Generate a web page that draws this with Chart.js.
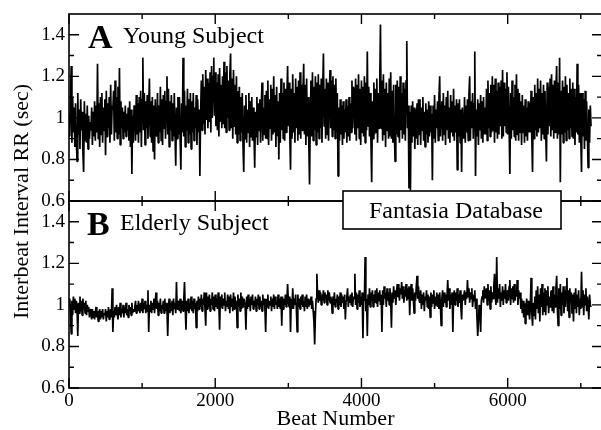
<!DOCTYPE html>
<html>
<head>
<meta charset="utf-8">
<title>Fantasia Database – RR intervals</title>
<script src="https://cdn.jsdelivr.net/npm/chart.js@4"></script>
<style>
  html, body { margin: 0; padding: 0; background: #fff; overflow: hidden; }
  #wrap { width: 606px; height: 430px; }
</style>
</head>
<body>
<div id="wrap"><canvas id="rr" width="606" height="430"></canvas></div>
<script>
// RR interval (sec), one sample every BEAT_STEP beats
const BEAT_STEP = 10;

const rrYoung = [
  1.02, 0.91, 1.08, 1.25, 0.88, 1.10, 0.93, 1.05, 0.86, 1.07, 0.90, 0.79, 1.12, 0.92, 1.04, 0.85, 1.09, 0.94, 1.03, 0.84, 0.74, 1.08, 0.89, 1.02, 0.88, 1.06, 0.85, 1.01, 0.90, 0.98,
  0.94, 1.05, 0.87, 1.03, 0.91, 1.08, 0.89, 1.06, 0.93, 1.26, 0.90, 1.07, 0.86, 1.10, 0.92, 1.12, 0.88, 1.05, 0.94, 1.09, 0.82, 1.13, 0.91, 1.07, 0.95, 1.10, 0.88, 1.16, 0.92, 1.06,
  1.04, 1.13, 0.89, 1.18, 0.93, 1.10, 0.90, 1.15, 0.92, 1.24, 0.87, 1.08, 0.95, 1.05, 0.90, 1.03, 0.93, 1.06, 0.91, 1.02, 0.94, 1.05, 0.89, 1.08, 0.86, 1.04, 0.73, 1.01, 0.88, 1.06,
  1.05, 0.89, 1.11, 0.92, 1.07, 0.88, 1.10, 0.93, 1.13, 0.86, 1.09, 1.29, 0.94, 1.12, 0.87, 1.08, 0.95, 1.11, 0.90, 1.06, 1.19, 0.91, 1.08, 0.88, 1.10, 0.84, 1.06, 0.80, 1.09, 0.93,
  0.91, 1.12, 0.88, 1.06, 0.93, 1.15, 0.89, 1.09, 0.87, 1.11, 0.95, 1.13, 0.90, 1.08, 1.20, 0.92, 1.14, 0.86, 1.08, 0.94, 1.11, 0.89, 1.07, 0.91, 1.12, 0.93, 0.77, 1.05, 0.90, 1.10,
  0.92, 1.10, 0.90, 0.75, 1.07, 0.93, 1.29, 0.91, 1.13, 0.86, 1.06, 0.94, 1.14, 0.88, 1.09, 0.92, 1.12, 0.85, 1.08, 0.93, 1.12, 0.89, 1.05, 0.95, 1.11, 0.87, 1.09, 0.93, 1.04, 0.72,
  1.02, 1.18, 0.94, 1.21, 0.97, 1.15, 0.92, 1.23, 0.99, 1.19, 0.95, 1.17, 0.98, 1.22, 0.93, 1.25, 1.00, 1.20, 1.29, 1.01, 1.22, 0.96, 1.17, 0.94, 1.21, 0.91, 1.24, 0.98, 1.16, 0.95,
  1.20, 0.97, 1.27, 0.95, 1.22, 0.93, 1.25, 1.00, 1.18, 0.94, 1.21, 1.31, 0.95, 1.19, 0.90, 1.23, 0.96, 1.16, 0.92, 1.20, 0.88, 1.13, 0.92, 1.15, 0.89, 1.10, 0.93, 1.12, 0.87, 0.74,
  1.06, 0.90, 1.11, 0.88, 1.04, 0.93, 1.12, 0.86, 1.08, 0.91, 1.10, 0.89, 1.05, 0.92, 0.76, 1.03, 0.91, 1.10, 0.87, 1.07, 0.94, 1.09, 0.88, 1.06, 1.17, 0.89, 1.05, 0.92, 1.11, 0.90,
  1.13, 0.90, 1.18, 0.87, 1.09, 0.95, 1.16, 0.89, 1.14, 0.92, 1.20, 0.93, 1.11, 0.86, 1.15, 0.91, 1.08, 0.80, 1.12, 0.88, 1.19, 0.94, 1.12, 0.90, 1.17, 0.89, 1.14, 0.93, 1.10, 1.25,
  0.96, 1.17, 0.92, 0.75, 1.14, 0.90, 1.21, 0.93, 1.12, 0.88, 1.19, 0.95, 1.15, 0.89, 1.18, 0.92, 1.22, 0.90, 1.16, 0.94, 1.13, 1.26, 0.92, 1.16, 0.87, 1.19, 0.91, 1.10, 0.88, 0.68,
  1.01, 1.18, 0.91, 1.22, 0.89, 1.15, 0.94, 1.20, 0.87, 1.17, 0.93, 1.21, 0.90, 1.16, 0.95, 1.19, 0.88, 1.14, 1.31, 0.96, 1.14, 0.90, 1.19, 0.92, 1.17, 0.89, 1.12, 1.23, 0.95, 1.18,
  0.91, 1.20, 0.94, 1.16, 0.90, 1.19, 0.93, 1.12, 0.72, 1.05, 0.89, 1.09, 0.92, 1.06, 0.87, 1.08, 0.90, 1.04, 0.93, 1.09, 0.88, 1.06, 0.91, 1.10, 0.89, 1.07, 0.93, 1.18, 0.95, 1.15,
  1.13, 0.92, 1.19, 0.89, 1.16, 0.95, 1.21, 0.90, 1.14, 0.87, 1.18, 0.93, 1.15, 0.91, 1.20, 0.88, 1.17, 0.94, 1.32, 0.96, 1.15, 0.91, 1.12, 0.89, 0.69, 1.08, 0.90, 1.17, 0.92, 1.14,
  0.93, 1.19, 0.88, 1.12, 0.95, 1.16, 1.45, 0.95, 1.18, 0.89, 1.21, 0.92, 1.14, 0.86, 1.17, 0.94, 1.12, 0.90, 1.19, 0.91, 1.22, 0.90, 1.13, 0.88, 1.16, 0.93, 0.79, 1.16, 0.92, 1.18,
  0.91, 1.15, 0.88, 1.20, 0.94, 1.12, 0.90, 1.17, 0.92, 1.14, 0.89, 1.18, 1.37, 0.95, 1.06, 0.66, 1.03, 0.65, 1.06, 0.88, 1.08, 0.91, 1.05, 0.85, 1.04, 0.90, 1.07, 0.87, 1.09, 0.92,
  1.09, 0.87, 1.05, 0.94, 1.10, 0.89, 1.03, 0.86, 1.07, 0.92, 1.04, 0.88, 1.08, 0.91, 1.06, 0.93, 1.02, 0.70, 1.06, 0.90, 1.11, 0.88, 1.04, 0.95, 1.08, 0.89, 1.10, 1.20, 0.91, 1.06,
  1.08, 0.89, 1.12, 0.92, 1.06, 0.87, 1.10, 0.94, 1.13, 0.90, 1.05, 0.88, 1.11, 0.93, 1.08, 0.91, 1.14, 0.89, 1.06, 0.93, 1.09, 0.75, 1.07, 0.91, 1.09, 0.88, 1.04, 0.74, 1.05, 0.92,
  0.90, 1.10, 0.88, 1.06, 0.93, 1.09, 0.89, 1.11, 1.20, 0.89, 1.08, 0.95, 1.12, 0.90, 1.07, 1.32, 0.72, 1.04, 0.91, 1.09, 0.87, 1.07, 0.94, 1.11, 0.90, 1.08, 0.88, 1.10, 0.92, 1.05,
  0.92, 1.14, 0.89, 1.18, 0.95, 1.12, 0.91, 1.16, 0.93, 1.20, 0.94, 1.16, 0.88, 1.19, 0.93, 1.13, 0.90, 1.17, 0.92, 1.15, 0.96, 1.18, 0.90, 1.23, 0.91, 1.17, 0.96, 1.14, 0.93, 1.22,
  0.92, 1.15, 0.94, 0.73, 1.12, 0.90, 1.18, 0.94, 1.10, 0.91, 1.16, 0.89, 1.21, 0.92, 1.14, 0.89, 1.12, 0.93, 1.08, 0.87, 1.11, 0.93, 1.06, 0.88, 1.09, 0.91, 1.05, 0.89, 1.08, 0.93,
  1.07, 0.93, 1.13, 0.90, 0.74, 1.10, 0.90, 1.16, 0.94, 1.12, 0.91, 1.19, 0.93, 1.14, 0.95, 1.18, 0.89, 1.12, 0.92, 1.16, 0.90, 1.13, 0.93, 0.79, 1.17, 0.92, 1.15, 0.96, 1.19, 0.91,
  1.21, 0.94, 1.16, 0.90, 1.18, 0.93, 1.14, 1.25, 0.90, 1.17, 0.92, 1.29, 0.69, 1.13, 0.92, 1.18, 0.88, 1.15, 0.93, 1.20, 0.89, 1.16, 0.94, 1.12, 0.90, 1.19, 0.95, 1.14, 0.91, 1.17,
  0.90, 1.14, 0.87, 1.10, 0.93, 1.26, 0.92, 1.16, 0.88, 1.12, 0.90, 0.74, 1.12, 0.91, 1.09, 0.85, 1.13, 0.89, 1.08, 0.92, 0.76, 1.04, 0.88, 1.06, 0.96
];

const rrElderly = [
  1.00, 1.03, 0.97, 0.86, 1.02, 0.95, 1.04, 0.98, 1.03, 0.96, 1.02, 0.99, 0.85, 1.01, 0.96, 1.04, 0.97, 1.02, 0.95, 1.03, 0.98, 1.01, 0.96, 1.02, 0.95, 1.00, 0.97, 0.99, 0.94, 0.98,
  0.97, 0.93, 0.98, 0.94, 0.97, 0.93, 0.96, 0.99, 0.94, 0.97, 0.92, 0.96, 0.98, 0.93, 0.97, 0.94, 0.98, 0.93, 0.96, 0.95, 0.98, 0.92, 0.97, 0.94, 0.99, 0.93, 0.96, 0.98, 0.94, 1.08,
  0.87, 0.97, 0.94, 0.99, 0.95, 1.00, 0.96, 0.93, 0.99, 0.95, 1.01, 0.94, 0.98, 0.96, 1.00, 0.94, 0.99, 0.96, 1.01, 0.95, 0.98, 0.94, 1.00, 0.97, 0.99, 0.95, 1.01, 0.96, 0.98, 0.97,
  0.99, 1.02, 0.96, 1.00, 0.97, 1.02, 0.98, 0.96, 1.01, 0.97, 1.03, 0.96, 1.01, 0.98, 1.02, 0.96, 1.00, 0.97, 1.07, 0.87, 1.00, 0.97, 1.02, 0.96, 1.01, 0.98, 1.03, 0.96, 1.01, 1.06,
  0.98, 1.02, 0.95, 1.01, 0.97, 1.03, 0.96, 1.00, 0.98, 1.02, 0.96, 1.03, 0.97, 1.01, 0.98, 0.85, 0.99, 1.03, 0.96, 1.01, 0.97, 1.02, 0.95, 1.03, 0.98, 1.01, 0.96, 1.11, 0.98, 1.02,
  1.01, 0.97, 1.03, 0.96, 1.00, 1.02, 0.97, 1.03, 1.11, 0.98, 0.88, 1.02, 0.97, 1.03, 0.96, 1.01, 0.98, 1.04, 0.97, 1.02, 0.96, 1.03, 0.98, 1.01, 0.89, 1.02, 0.97, 1.04, 0.98, 1.03,
  0.99, 1.05, 0.97, 1.03, 1.00, 1.06, 0.98, 0.90, 1.06, 0.98, 1.04, 0.99, 1.05, 0.97, 1.03, 1.00, 1.06, 0.98, 1.04, 0.97, 1.05, 0.99, 1.03, 0.98, 1.06, 1.00, 0.88, 1.04, 0.99, 1.05,
  0.98, 1.03, 1.00, 1.06, 0.97, 1.02, 0.99, 1.05, 0.98, 1.04, 0.96, 1.05, 0.99, 1.03, 0.97, 1.06, 0.98, 1.04, 1.00, 1.02, 0.89, 1.05, 0.99, 1.03, 0.97, 1.06, 0.98, 1.04, 0.99, 1.03,
  1.02, 0.99, 0.88, 1.04, 0.98, 1.05, 0.99, 1.03, 0.97, 1.04, 1.00, 1.05, 0.98, 1.02, 0.99, 1.04, 0.97, 1.03, 1.00, 1.05, 0.98, 1.04, 0.99, 1.02, 0.97, 1.05, 1.00, 1.03, 0.98, 0.87,
  1.03, 0.99, 1.05, 0.98, 1.02, 1.00, 1.04, 0.97, 1.03, 0.99, 1.05, 0.98, 1.04, 1.00, 1.02, 0.98, 1.05, 0.99, 1.03, 0.98, 1.04, 0.90, 1.04, 0.98, 1.03, 1.00, 1.05, 0.99, 1.02, 1.10,
  1.02, 0.99, 1.04, 0.87, 1.03, 0.98, 1.08, 0.98, 1.03, 1.00, 1.05, 0.98, 0.87, 1.05, 0.99, 1.03, 0.98, 1.04, 1.00, 1.05, 0.99, 1.02, 0.97, 1.04, 0.99, 1.05, 0.98, 1.03, 0.99, 1.02,
  1.00, 1.04, 0.98, 1.02, 0.97, 0.92, 0.81, 0.95, 1.03, 1.15, 1.05, 1.01, 1.07, 1.02, 1.06, 1.00, 1.05, 1.02, 1.07, 1.01, 1.06, 1.03, 1.05, 1.00, 1.07, 1.02, 1.06, 1.01, 1.04, 1.02,
  0.96, 1.04, 1.00, 1.06, 0.99, 1.03, 1.01, 1.05, 0.98, 1.04, 1.00, 1.06, 0.99, 1.05, 1.01, 1.04, 0.98, 1.05, 0.93, 1.02, 1.04, 1.08, 0.99, 1.04, 1.01, 1.05, 1.00, 1.06, 0.99, 1.04,
  1.03, 1.15, 1.00, 1.06, 0.98, 1.05, 1.01, 1.07, 0.99, 1.04, 1.00, 1.06, 0.84, 1.04, 1.02, 1.23, 0.97, 1.03, 0.85, 1.05, 1.00, 1.08, 0.99, 1.06, 1.02, 1.07, 0.99, 1.05, 1.01, 1.07,
  1.01, 1.08, 0.99, 1.06, 1.02, 1.07, 1.00, 1.05, 0.87, 1.07, 1.00, 1.09, 1.03, 1.06, 0.99, 1.08, 1.02, 1.06, 1.00, 1.08, 1.02, 0.89, 1.06, 1.01, 1.09, 1.03, 1.07, 1.00, 1.06, 1.10,
  1.04, 1.10, 1.02, 1.08, 1.05, 1.11, 1.03, 1.09, 1.01, 1.07, 1.04, 1.10, 1.02, 1.08, 1.03, 1.09, 0.95, 1.06, 1.10, 1.02, 1.08, 1.03, 0.96, 1.06, 1.02, 1.09, 1.14, 1.03, 1.09, 1.02,
  1.01, 1.07, 0.98, 1.05, 1.00, 1.06, 0.97, 1.04, 1.02, 1.07, 0.99, 1.05, 0.98, 1.04, 0.94, 1.06, 0.99, 1.05, 1.01, 1.07, 0.98, 1.04, 1.00, 1.06, 0.99, 1.05, 0.98, 1.06, 1.00, 0.90,
  1.03, 1.07, 0.99, 1.06, 1.01, 1.05, 0.99, 1.04, 1.12, 1.02, 1.08, 0.98, 1.05, 1.00, 1.06, 0.87, 1.04, 1.07, 1.00, 1.06, 1.02, 1.08, 0.99, 1.05, 1.01, 1.07, 0.99, 0.93, 1.05, 1.02,
  1.02, 1.07, 1.00, 1.06, 1.03, 1.12, 1.04, 1.08, 1.01, 1.06, 1.03, 1.08, 0.99, 1.05, 1.02, 1.07, 0.98, 1.03, 0.94, 0.85, 0.92, 1.00, 0.97, 0.87, 1.02, 1.04, 1.07, 1.01, 1.09, 1.03,
  1.03, 1.08, 1.00, 1.10, 1.02, 1.07, 0.98, 1.09, 1.01, 1.06, 1.03, 1.09, 1.15, 1.04, 1.00, 1.23, 1.01, 1.08, 1.03, 1.10, 0.99, 1.06, 1.02, 1.09, 1.00, 1.07, 1.03, 1.10, 1.01, 1.06,
  1.07, 1.02, 1.09, 1.12, 1.00, 1.08, 1.03, 1.09, 1.01, 1.10, 1.02, 1.07, 1.04, 1.12, 1.00, 1.07, 1.03, 1.06, 0.98, 1.03, 0.96, 1.02, 0.94, 1.01, 0.91, 0.98, 1.03, 0.95, 1.02, 0.97,
  0.93, 1.00, 1.13, 0.96, 0.90, 1.01, 0.95, 1.04, 0.93, 1.07, 0.98, 1.09, 0.96, 1.05, 0.92, 1.08, 0.99, 1.10, 0.95, 1.06, 0.97, 1.08, 0.95, 1.07, 1.00, 1.09, 0.96, 1.04, 0.99, 1.06,
  1.07, 0.97, 1.09, 0.96, 1.05, 0.99, 1.08, 1.14, 0.98, 0.90, 1.08, 0.98, 1.10, 0.95, 1.06, 1.00, 1.09, 0.96, 1.07, 0.99, 1.09, 1.13, 0.97, 1.07, 0.94, 1.08, 1.01, 1.06, 0.96, 1.05,
  0.92, 1.06, 0.98, 1.08, 0.96, 1.05, 0.99, 1.07, 0.95, 1.03, 0.98, 1.16, 0.99, 1.07, 0.95, 1.05, 1.00, 1.08, 0.97, 1.04, 0.99, 0.93, 1.05, 1.00, 0.99
];

// Axis ticks
const X_MIN = 0, X_MAX = 7290;
const X_MAJOR = [0, 2000, 4000, 6000];
const X_MINOR = [1000, 3000, 5000, 7000];
const X_TICK_LABELS = ['0', '2000', '4000', '6000'];
const Y_MIN = 0.6, Y_MAX = 1.5;
const Y_MAJOR = [0.6, 0.8, 1.0, 1.2, 1.4];
const Y_MINOR = [0.7, 0.9, 1.1, 1.3];
const Y_TICK_LABELS = ['0.6', '0.8', '1', '1.2', '1.4'];

const SERIF = '"Liberation Serif", "Times New Roman", serif';

function toPoints(values) {
  return values.map((v, i) => ({ x: i * BEAT_STEP, y: v }));
}

function fixedWidthY(scale) {
  scale.width = 69;
  scale.paddingTop = 0; scale.paddingBottom = 0;
  scale.paddingLeft = 0; scale.paddingRight = 0;
}

function panelAxis() {
  return {
    type: 'linear',
    position: 'left',
    stack: 'rr',
    stackWeight: 1,
    min: Y_MIN,
    max: Y_MAX,
    afterBuildTicks: (s) => { s.ticks = Y_MAJOR.map(v => ({ value: v })); },
    afterFit: fixedWidthY,
    grid: { display: false, drawTicks: false },
    border: { display: false },
    ticks: {
      autoSkip: false,
      padding: 4,
      color: '#000',
      font: { family: SERIF, size: 19 },
      callback: (v) => { const k = Y_MAJOR.indexOf(v); return k >= 0 ? Y_TICK_LABELS[k] : ''; }
    }
  };
}

// Boxed panels with inward ticks on all four sides, plus panel captions
const panelFrames = {
  id: 'panelFrames',
  afterDatasetsDraw(chart) {
    const { ctx, chartArea, scales } = chart;
    const xs = scales.x;
    const L = chartArea.left, R = chartArea.right;
    const MAJ = 10, MIN = 5;
    ctx.save();
    ctx.strokeStyle = '#000';
    for (const id of ['yYoung', 'yElderly']) {
      const s = scales[id];
      const T = s.top, B = s.bottom;
      ctx.lineWidth = 1.6;
      ctx.strokeRect(L, T, R - L, B - T);
      ctx.lineWidth = 1.4;
      ctx.beginPath();
      const yTick = (v, len) => {
        const py = s.getPixelForValue(v);
        ctx.moveTo(L, py); ctx.lineTo(L + len, py);
        ctx.moveTo(R, py); ctx.lineTo(R - len, py);
      };
      const xTick = (v, len) => {
        const px = xs.getPixelForValue(v);
        ctx.moveTo(px, T); ctx.lineTo(px, T + len);
        ctx.moveTo(px, B); ctx.lineTo(px, B - len);
      };
      Y_MAJOR.forEach(v => yTick(v, MAJ));
      Y_MINOR.forEach(v => yTick(v, MIN));
      X_MAJOR.forEach(v => xTick(v, MAJ));
      X_MINOR.forEach(v => xTick(v, MIN));
      ctx.stroke();
    }
    ctx.restore();
  },
  afterDraw(chart) {
    const { ctx, scales } = chart;
    const top = scales.yYoung.top, bottom = scales.yElderly.bottom;
    ctx.save();
    ctx.fillStyle = '#000';
    ctx.textBaseline = 'alphabetic';
    ctx.textAlign = 'left';

    // panel letters and captions
    ctx.font = 'bold 34px ' + SERIF;
    ctx.fillText('A', 88, 48);
    ctx.fillText('B', 87, 235);
    ctx.font = '24px ' + SERIF;
    ctx.fillText('Young Subject', 123, 43);
    ctx.fillText('Elderly Subject', 120, 230);

    // database tag straddling the panel boundary
    ctx.fillStyle = '#fff';
    ctx.fillRect(343, 191, 218, 38);
    ctx.strokeStyle = '#000';
    ctx.lineWidth = 1.6;
    ctx.strokeRect(343, 191, 218, 38);
    ctx.fillStyle = '#000';
    ctx.fillText('Fantasia Database', 369, 218);

    // shared vertical axis title
    ctx.font = '22px ' + SERIF;
    ctx.textAlign = 'center';
    ctx.translate(27.5, (top + bottom) / 2 + 0.5);
    ctx.rotate(-Math.PI / 2);
    ctx.fillText('Interbeat Interval RR (sec)', 0, 0);
    ctx.restore();
  }
};

const lineStyle = {
  borderColor: '#000',
  borderWidth: 1.7,
  borderJoinStyle: 'bevel',
  pointRadius: 0,
  fill: false,
  tension: 0
};

new Chart(document.getElementById('rr'), {
  type: 'line',
  data: {
    datasets: [
      Object.assign({ label: 'Young Subject', data: toPoints(rrYoung), yAxisID: 'yYoung' }, lineStyle),
      Object.assign({ label: 'Elderly Subject', data: toPoints(rrElderly), yAxisID: 'yElderly' }, lineStyle)
    ]
  },
  options: {
    responsive: false,
    animation: false,
    devicePixelRatio: 1,
    parsing: false,
    layout: { padding: { top: 14, right: 4, bottom: 0, left: 0 } },
    plugins: { legend: { display: false }, tooltip: { enabled: false } },
    scales: {
      x: {
        type: 'linear',
        position: 'bottom',
        min: X_MIN,
        max: X_MAX,
        afterBuildTicks: (s) => { s.ticks = X_MAJOR.map(v => ({ value: v })); },
        afterFit: (s) => {
          s.height = 42;
          s.paddingTop = 0; s.paddingBottom = 0; s.paddingLeft = 0; s.paddingRight = 0;
        },
        grid: { display: false, drawTicks: false },
        border: { display: false },
        ticks: {
          autoSkip: false,
          maxRotation: 0,
          padding: 2,
          color: '#000',
          font: { family: SERIF, size: 19 },
          callback: (v) => { const k = X_MAJOR.indexOf(v); return k >= 0 ? X_TICK_LABELS[k] : ''; }
        },
        title: {
          display: true,
          text: 'Beat Number',
          color: '#000',
          padding: 0,
          font: { family: SERIF, size: 22, lineHeight: 1 }
        }
      },
      yElderly: panelAxis(),
      yYoung: panelAxis()
    }
  },
  plugins: [panelFrames]
});
</script>
</body>
</html>
